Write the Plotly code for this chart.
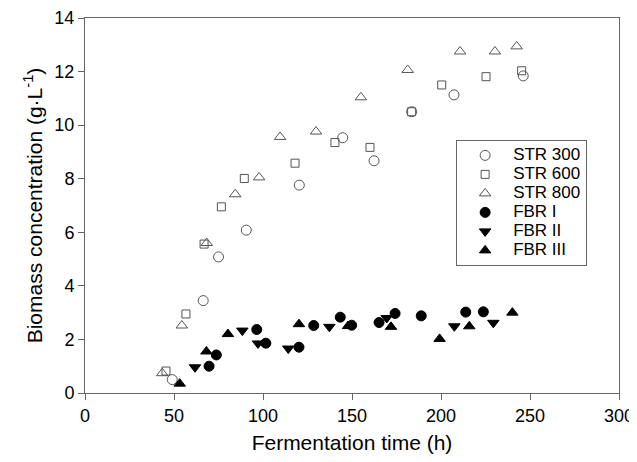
import plotly.graph_objects as go

# STR 300 (open circles)
str300_t = [49, 66.4, 75, 90.6, 120.4, 144.8, 162.4, 183.5, 207.3, 246.2]
str300_x = [0.5, 3.45, 5.08, 6.08, 7.76, 9.53, 8.67, 10.5, 11.13, 11.84]
# STR 600 (open squares)
str600_t = [45.5, 56.7, 66.9, 76.6, 89.5, 118, 140.4, 160.1, 183.5, 200.4, 225.3, 245.3]
str600_x = [0.82, 2.95, 5.56, 6.95, 8.01, 8.58, 9.35, 9.17, 10.5, 11.5, 11.81, 12.03]
# STR 800 (open triangles)
str800_t = [43.4, 54.4, 68.4, 84.4, 97.8, 109.6, 129.8, 155.0, 181.3, 210.7, 230.3, 242.5]
str800_x = [0.74, 2.52, 5.6, 7.42, 8.05, 9.56, 9.76, 11.04, 12.06, 12.75, 12.75, 12.94]
# FBR I (filled circles)
fbr1_t = [69.7, 73.8, 96.5, 101.6, 120.2, 128.5, 143.4, 149.8, 165.2, 174.2, 188.9, 213.9, 223.8]
fbr1_x = [1.0, 1.42, 2.37, 1.86, 1.71, 2.52, 2.83, 2.53, 2.63, 2.97, 2.88, 3.02, 3.03]
# FBR II (filled down triangles)
fbr2_t = [61.8, 88.4, 97.2, 114.2, 137.3, 169.5, 207.5, 229.4]
fbr2_x = [0.96, 2.33, 1.85, 1.66, 2.47, 2.80, 2.49, 2.62]
# FBR III (filled up triangles)
fbr3_t = [53.2, 68.2, 80.3, 120.2, 147.8, 171.9, 199.2, 215.9, 240.1]
fbr3_x = [0.35, 1.55, 2.2, 2.57, 2.5, 2.47, 2.02, 2.49, 3.0]

series_names = ["STR 300", "STR 600", "STR 800", "FBR I", "FBR II", "FBR III"]
x_ticks = [0, 50, 100, 150, 200, 250, 300]
y_ticks = [0, 2, 4, 6, 8, 10, 12, 14]

FONT = "Liberation Sans, Arial, sans-serif"
OPEN_COL = "#555555"

fig = go.Figure()
series = [
    (str300_t, str300_x, "circle-open", 10, OPEN_COL),
    (str600_t, str600_x, "square-open", 8, OPEN_COL),
    (str800_t, str800_x, "triangle-up-open", 10, OPEN_COL),
    (fbr1_t, fbr1_x, "circle", 10, "black"),
    (fbr2_t, fbr2_x, "triangle-down", 10, "black"),
    (fbr3_t, fbr3_x, "triangle-up", 10, "black"),
]
for name, (t, x, sym, size, col) in zip(series_names, series):
    fig.add_trace(go.Scatter(
        x=t, y=x, mode="markers",
        name='<span style="font-size:17px">' + name + '</span>',
        hovertemplate=name + ": (%{x}, %{y})<extra></extra>",
        marker=dict(symbol=sym, size=size, color=col, line=dict(width=1, color=col)),
    ))

axis_common = dict(
    showgrid=False, zeroline=False, showline=True, linecolor="#666666", linewidth=1,
    mirror=True, ticks="outside", ticklen=6, tickcolor="#666666", tickwidth=1,
    tickfont=dict(family=FONT, size=18, color="black"), automargin=False,
)
fig.update_xaxes(range=[0, 300], tickvals=x_ticks,
                 title=dict(text="Fermentation time (h)", font=dict(family=FONT, size=21, color="black"), standoff=10),
                 **axis_common)
fig.update_yaxes(range=[0, 14], tickvals=y_ticks,
                 title=dict(text="Biomass concentration (g·L<sup>-1</sup>)", font=dict(family=FONT, size=21, color="black"), standoff=6),
                 **axis_common)

fig.update_layout(
    width=629, height=454,
    margin=dict(l=77, r=18, t=10, b=69),
    paper_bgcolor="white", plot_bgcolor="white",
    font=dict(family=FONT, color="black"),
    legend=dict(x=0.695, y=0.675, xanchor="left", yanchor="top",
                bordercolor="#666666", borderwidth=1, bgcolor="white",
                font=dict(family=FONT, size=12, color="black"),
                itemwidth=46, tracegroupgap=0),
)

fig.write_html("out.html")
